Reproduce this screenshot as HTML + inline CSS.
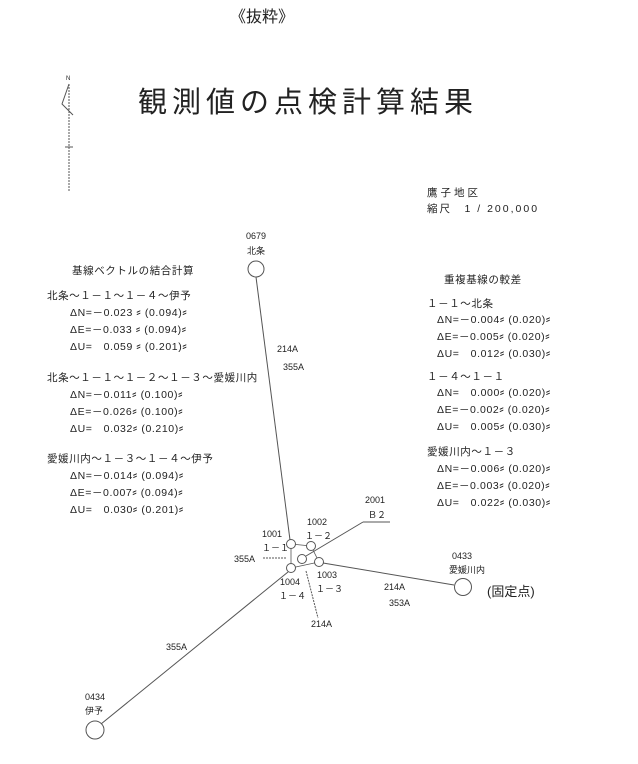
<!DOCTYPE html>
<html><head><meta charset="utf-8"><style>
html,body{margin:0;padding:0;background:#fff}
svg{display:block}
text{font-family:"Liberation Sans","Noto Sans CJK JP",sans-serif;fill:#222}
.t tspan.k{font-size:13px}
</style></head><body>
<svg width="638" height="764" viewBox="0 0 638 764" xmlns="http://www.w3.org/2000/svg">
<g font-size="16"><text x="230" y="22">《抜粋》</text></g>
<text x="138" y="112" font-size="29" letter-spacing="5">観測値の点検計算結果</text>
<g stroke="#555" stroke-width="1" fill="none">
<line x1="69" y1="84" x2="69" y2="192" stroke-dasharray="2,1"/>
<polyline points="69,84 62,104 73,115"/>
<line x1="65" y1="147" x2="73" y2="147"/>
</g>
<text x="66" y="80" font-size="6">N</text>
<g font-size="10.5">
<text x="427" y="196" letter-spacing="3">鷹子地区</text>
<text x="427" y="212" letter-spacing="2">縮尺　1 / 200,000</text>
</g>
<g font-size="10.5" letter-spacing="0.6" class="t">
<text x="72" y="274">基線ベクトルの結合計算</text>
<text x="47" y="299">北条～１－１～１－４～伊予</text>
<text x="70" y="316">ΔN=－0.023 <tspan class="k">⸗</tspan> (0.094)<tspan class="k">⸗</tspan></text>
<text x="70" y="333">ΔE=－0.033 <tspan class="k">⸗</tspan> (0.094)<tspan class="k">⸗</tspan></text>
<text x="70" y="350">ΔU=　0.059 <tspan class="k">⸗</tspan> (0.201)<tspan class="k">⸗</tspan></text>
<text x="47" y="381">北条～１－１～１－２～１－３～愛媛川内</text>
<text x="70" y="398">ΔN=－0.011<tspan class="k">⸗</tspan> (0.100)<tspan class="k">⸗</tspan></text>
<text x="70" y="415">ΔE=－0.026<tspan class="k">⸗</tspan> (0.100)<tspan class="k">⸗</tspan></text>
<text x="70" y="432">ΔU=　0.032<tspan class="k">⸗</tspan> (0.210)<tspan class="k">⸗</tspan></text>
<text x="47" y="462">愛媛川内～１－３～１－４～伊予</text>
<text x="70" y="479">ΔN=－0.014<tspan class="k">⸗</tspan> (0.094)<tspan class="k">⸗</tspan></text>
<text x="70" y="496">ΔE=－0.007<tspan class="k">⸗</tspan> (0.094)<tspan class="k">⸗</tspan></text>
<text x="70" y="513">ΔU=　0.030<tspan class="k">⸗</tspan> (0.201)<tspan class="k">⸗</tspan></text>
</g>
<g font-size="10.5" letter-spacing="0.6" class="t">
<text x="444" y="283">重複基線の較差</text>
<text x="427" y="307">１－１～北条</text>
<text x="437" y="323">ΔN=－0.004<tspan class="k">⸗</tspan> (0.020)<tspan class="k">⸗</tspan></text>
<text x="437" y="340">ΔE=－0.005<tspan class="k">⸗</tspan> (0.020)<tspan class="k">⸗</tspan></text>
<text x="437" y="357">ΔU=　0.012<tspan class="k">⸗</tspan> (0.030)<tspan class="k">⸗</tspan></text>
<text x="427" y="380">１－４～１－１</text>
<text x="437" y="396">ΔN=　0.000<tspan class="k">⸗</tspan> (0.020)<tspan class="k">⸗</tspan></text>
<text x="437" y="413">ΔE=－0.002<tspan class="k">⸗</tspan> (0.020)<tspan class="k">⸗</tspan></text>
<text x="437" y="430">ΔU=　0.005<tspan class="k">⸗</tspan> (0.030)<tspan class="k">⸗</tspan></text>
<text x="427" y="455">愛媛川内～１－３</text>
<text x="437" y="472">ΔN=－0.006<tspan class="k">⸗</tspan> (0.020)<tspan class="k">⸗</tspan></text>
<text x="437" y="489">ΔE=－0.003<tspan class="k">⸗</tspan> (0.020)<tspan class="k">⸗</tspan></text>
<text x="437" y="506">ΔU=　0.022<tspan class="k">⸗</tspan> (0.030)<tspan class="k">⸗</tspan></text>
</g>
<g stroke="#555" stroke-width="1" fill="none">
<line x1="256" y1="277" x2="290" y2="540"/>
<line x1="288" y1="572" x2="101" y2="724"/>
<line x1="323" y1="563" x2="454" y2="585"/>
<line x1="306" y1="556" x2="363" y2="522"/>
<line x1="363" y1="522" x2="390" y2="522"/>
<line x1="263" y1="558" x2="287" y2="558" stroke-dasharray="2,1"/>
<line x1="306" y1="571" x2="318" y2="618" stroke-dasharray="2,1"/>
<polyline points="291,544 311,546 319,562 291,568 291,544" stroke-width="0.8"/>
<circle cx="256" cy="269" r="8" fill="#fff"/>
<circle cx="95" cy="730" r="9" fill="#fff"/>
<circle cx="463" cy="587" r="8.5" fill="#fff"/>
<circle cx="291" cy="544" r="4.5" fill="#fff"/>
<circle cx="311" cy="546" r="4.5" fill="#fff"/>
<circle cx="302" cy="559" r="4.5" fill="#fff"/>
<circle cx="319" cy="562" r="4.5" fill="#fff"/>
<circle cx="291" cy="568" r="4.5" fill="#fff"/>
</g>
<g font-size="9">
<text x="246" y="239">0679</text>
<text x="247" y="254">北条</text>
<text x="277" y="352">214A</text>
<text x="283" y="370">355A</text>
<text x="365" y="503">2001</text>
<text x="368" y="518">Ｂ２</text>
<text x="262" y="537">1001</text>
<text x="262" y="551">１－１</text>
<text x="307" y="525">1002</text>
<text x="305" y="539">１－２</text>
<text x="234" y="562">355A</text>
<text x="280" y="585">1004</text>
<text x="279" y="599">１－４</text>
<text x="317" y="578">1003</text>
<text x="316" y="592">１－３</text>
<text x="384" y="590">214A</text>
<text x="389" y="606">353A</text>
<text x="311" y="627">214A</text>
<text x="452" y="559">0433</text>
<text x="449" y="573">愛媛川内</text>
<text x="166" y="650">355A</text>
<text x="85" y="700">0434</text>
<text x="85" y="714">伊予</text>
</g>
<text x="487" y="596" font-size="13">(固定点)</text>
</svg>
</body></html>
